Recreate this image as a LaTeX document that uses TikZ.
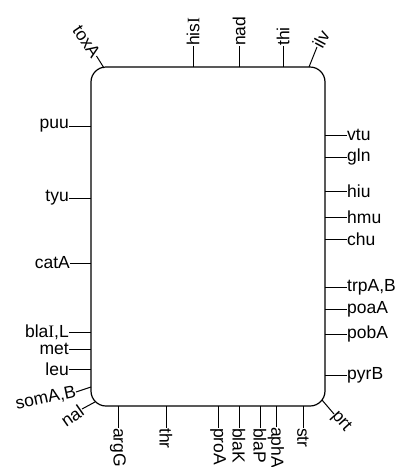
\documentclass[tikz,border=0pt]{standalone}
\usepackage{fontspec}
\setmainfont{Liberation Sans}
\newfontfamily\serifI{Liberation Serif}
\begin{document}
\begin{tikzpicture}[x=1pt,y=-1pt,
  gene/.style={font=\fontsize{17.5}{20}\selectfont, inner sep=0pt},
  tick/.style={line width=1pt},
  lft/.style={gene, anchor=east},
  rgt/.style={gene, anchor=west},
  topl/.style={gene, anchor=west, rotate=90},
  botl/.style={gene, anchor=west, rotate=-90}]
\useasboundingbox (0,0) rectangle (403,467);
\node[draw, line width=1.2pt, rounded corners=15pt, inner sep=0pt, minimum width=234pt, minimum height=339pt] (chrom) at (208,236.5) {};
% top
\node[gene, anchor=east, rotate=-56] (toxA) at (96.5,56) {toxA};
\coordinate (toxA0) at (104,68);
\draw[tick] (toxA0) -- (toxA.east);
\node[topl] (hisI) at (193,46) {his{\serifI I}};
\coordinate (hisI0) at (193,67);
\draw[tick] (hisI0) -- (hisI.west);
\node[topl] (nad) at (239,46) {nad};
\coordinate (nad0) at (239,67);
\draw[tick] (nad0) -- (nad.west);
\node[topl] (thi) at (283,46) {thi};
\coordinate (thi0) at (283,67);
\draw[tick] (thi0) -- (thi.west);
\node[gene, anchor=west, rotate=62] (ilv) at (317,47) {ilv};
\coordinate (ilv0) at (309,67);
\draw[tick] (ilv0) -- (ilv.west);
% left
\node[lft] (puu) at (69,126) {puu};
\coordinate (puu0) at (91,126);
\draw[tick] (puu0) -- (puu.east);
\node[lft] (tyu) at (69,198) {tyu};
\coordinate (tyu0) at (91,198);
\draw[tick] (tyu0) -- (tyu.east);
\node[lft] (catA) at (70,263) {catA};
\coordinate (catA0) at (91,263);
\draw[tick] (catA0) -- (catA.east);
\node[lft] (blaIL) at (69,332) {bla{\serifI I},L};
\coordinate (blaIL0) at (91,332);
\draw[tick] (blaIL0) -- (blaIL.east);
\node[lft] (met) at (69,349) {met};
\coordinate (met0) at (91,349);
\draw[tick] (met0) -- (met.east);
\node[lft] (leu) at (69,369) {leu};
\coordinate (leu0) at (91,369);
\draw[tick] (leu0) -- (leu.east);
\node[gene, anchor=east, rotate=12] (somAB) at (76,392) {somA,B};
\coordinate (somAB0) at (91,387);
\draw[tick] (somAB0) -- (somAB.east);
\node[gene, anchor=east, rotate=35] (nal) at (82,409) {nal};
\coordinate (nal0) at (95,402);
\draw[tick] (nal0) -- (nal.east);
% right
\node[rgt] (vtu) at (347,135) {vtu};
\coordinate (vtu0) at (325,135);
\draw[tick] (vtu0) -- (vtu.west);
\node[rgt] (gln) at (347,157) {gln};
\coordinate (gln0) at (325,157);
\draw[tick] (gln0) -- (gln.west);
\node[rgt] (hiu) at (347,191) {hiu};
\coordinate (hiu0) at (325,191);
\draw[tick] (hiu0) -- (hiu.west);
\node[rgt] (hmu) at (347,217) {hmu};
\coordinate (hmu0) at (325,217);
\draw[tick] (hmu0) -- (hmu.west);
\node[rgt] (chu) at (347,239) {chu};
\coordinate (chu0) at (325,239);
\draw[tick] (chu0) -- (chu.west);
\node[rgt] (trpAB) at (347,287) {trpA,B};
\coordinate (trpAB0) at (325,287);
\draw[tick] (trpAB0) -- (trpAB.west);
\node[rgt] (poaA) at (347,309) {poaA};
\coordinate (poaA0) at (325,309);
\draw[tick] (poaA0) -- (poaA.west);
\node[rgt] (pobA) at (347,334) {pobA};
\coordinate (pobA0) at (325,334);
\draw[tick] (pobA0) -- (pobA.west);
\node[rgt] (pyrB) at (347,375) {pyrB};
\coordinate (pyrB0) at (325,375);
\draw[tick] (pyrB0) -- (pyrB.west);
\node[gene, anchor=west, rotate=-48] (prt) at (334,414) {prt};
\coordinate (prt0) at (322,400);
\draw[tick] (prt0) -- (prt.west);
% bottom
\node[botl] (argG) at (118,428) {argG};
\coordinate (argG0) at (118,406);
\draw[tick] (argG0) -- (argG.west);
\node[botl] (thr) at (166,428) {thr};
\coordinate (thr0) at (166,406);
\draw[tick] (thr0) -- (thr.west);
\node[botl] (proA) at (218,428) {proA};
\coordinate (proA0) at (218,406);
\draw[tick] (proA0) -- (proA.west);
\node[botl] (blaK) at (239,428) {blaK};
\coordinate (blaK0) at (239,406);
\draw[tick] (blaK0) -- (blaK.west);
\node[botl] (blaP) at (260,428) {blaP};
\coordinate (blaP0) at (260,406);
\draw[tick] (blaP0) -- (blaP.west);
\node[botl] (aphA) at (276,427) {aphA};
\coordinate (aphA0) at (276,406);
\draw[tick] (aphA0) -- (aphA.west);
\node[botl] (str) at (303,428) {str};
\coordinate (str0) at (303,406);
\draw[tick] (str0) -- (str.west);
\end{tikzpicture}
\end{document}
